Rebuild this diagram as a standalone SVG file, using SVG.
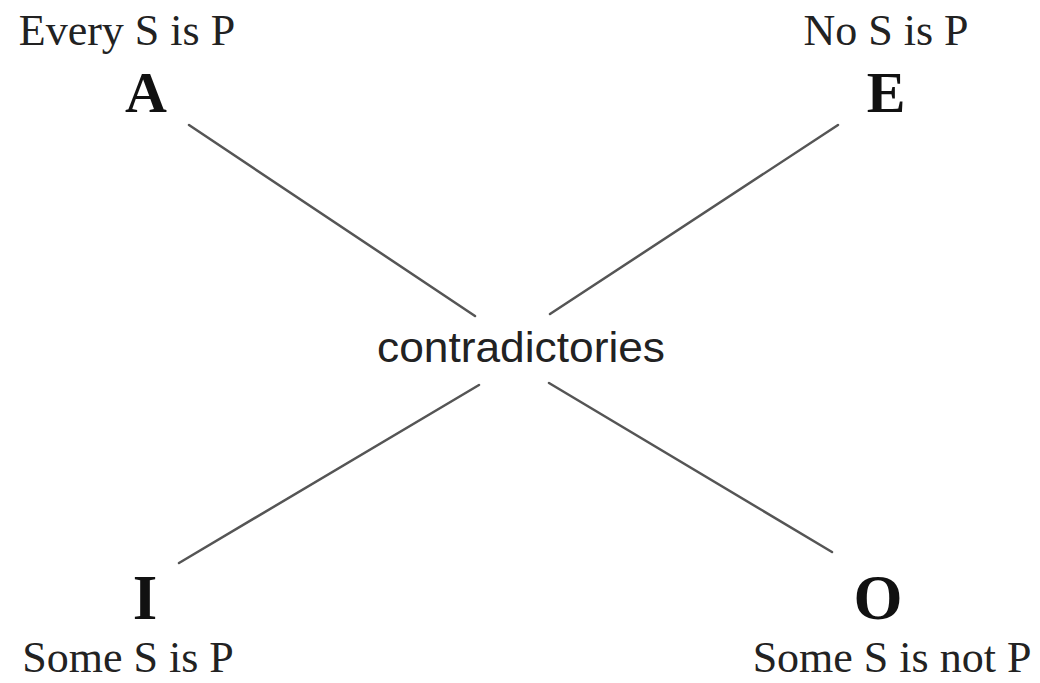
<svg xmlns="http://www.w3.org/2000/svg" width="1040" height="683" viewBox="0 0 1040 683">
<style>
.lbl{font-family:"Liberation Serif","Times New Roman",serif;font-size:44px;fill:#222;text-anchor:middle}
.ltr{font-family:"Liberation Serif","Times New Roman",serif;font-size:58px;font-weight:bold;fill:#111;text-anchor:middle}
.big{font-size:63px}
.mid{font-family:"Liberation Sans",Arial,sans-serif;font-size:42px;fill:#222;text-anchor:middle}
.edge{stroke:#555;stroke-width:2.5;fill:none;stroke-linecap:round}
</style>
<rect width="1040" height="683" fill="#fff"/>
<g id="connectors">
<line class="edge" x1="189" y1="125" x2="475" y2="316"/>
<line class="edge" x1="838" y1="125" x2="550" y2="314"/>
<line class="edge" x1="179" y1="563" x2="479" y2="385"/>
<line class="edge" x1="549" y1="383" x2="832" y2="552"/>
</g>
<g id="nodeA">
<text class="lbl" x="127" y="45">Every S is P</text>
<text class="ltr" x="146" y="112">A</text>
</g>
<g id="nodeE">
<text class="lbl" x="886" y="45">No S is P</text>
<text class="ltr" x="886" y="112">E</text>
</g>
<g id="nodeI">
<text class="ltr big" x="145" y="619">I</text>
<text class="lbl" x="128" y="672">Some S is P</text>
</g>
<g id="nodeO">
<text class="ltr big" x="878" y="619">O</text>
<text class="lbl" x="892" y="672">Some S is not P</text>
</g>
<g id="center">
<text class="mid" x="521" y="362" textLength="288" lengthAdjust="spacingAndGlyphs">contradictories</text>
</g>
</svg>
